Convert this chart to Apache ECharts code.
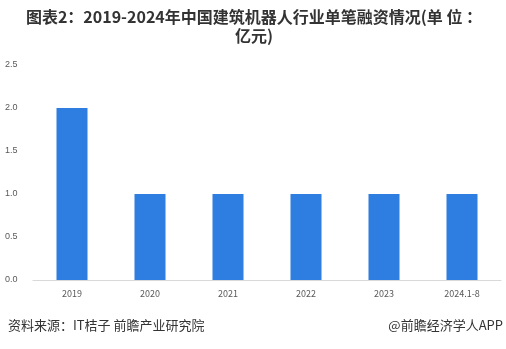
<!DOCTYPE html>
<html><head><meta charset="utf-8">
<script src="https://cdn.jsdelivr.net/npm/echarts@6/dist/echarts.min.js"></script>
<style>html,body{margin:0;padding:0;background:#fff}#c{width:506px;height:349px}</style>
</head><body><div id="c"></div>
<script>
const categories = ['2019','2020','2021','2022','2023','2024.1-8'];
const values = [2, 1, 1, 1, 1, 1];
const yTicks = ['0.0','0.5','1.0','1.5','2.0','2.5'];

const chart = echarts.init(document.getElementById('c'), null, {renderer:'canvas'});
chart.setOption({
  animation:false,
  backgroundColor:'#fff',
  graphic:[
    {type:'text', x:254, y:7, style:{text:'图表2：2019-2024年中国建筑机器人行业单笔融资情况(单 位 ：\n亿元)', textAlign:'center', align:'center', font:'bold 16px "Noto Sans CJK SC", sans-serif', lineHeight:19, fill:'#333'}},
    {type:'text', left:8, top:319, style:{text:'资料来源：IT桔子 前瞻产业研究院', font:'13px "Noto Sans CJK SC", sans-serif', fill:'#333'}},
    {type:'text', right:3, top:319, style:{text:'@前瞻经济学人APP', font:'13px "Noto Sans CJK SC", sans-serif', fill:'#333'}}
  ],
  grid:{left:33, right:5, top:65, bottom:69},
  xAxis:{type:'category', data:categories,
    axisLine:{lineStyle:{color:'#d9d9d9'}}, axisTick:{show:false},
    axisLabel:{color:'#595959', fontSize:9, margin:9, fontFamily:'"Noto Sans CJK SC", sans-serif'}},
  yAxis:{type:'value', min:0, max:2.5, interval:0.5,
    axisLine:{show:false}, axisTick:{show:false}, splitLine:{show:false},
    axisLabel:{color:'#595959', fontSize:9, align:'left', margin:28,
      formatter:function(v){return yTicks[Math.round(v/0.5)];}}},
  series:[{type:'bar', data:values, barWidth:31, itemStyle:{color:'#2E7DE1'}}]
});
</script></body></html>
